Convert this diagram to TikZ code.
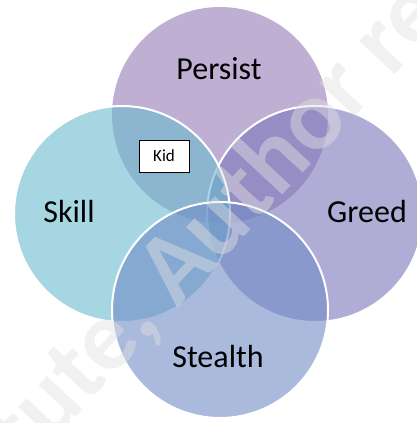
\documentclass[tikz,border=0pt]{standalone}
\usepackage{fontspec}
\setmainfont{Carlito}
\definecolor{persistC}{RGB}{148,123,182}
\definecolor{skillC}{RGB}{107,187,207}
\definecolor{greedC}{RGB}{122,118,185}
\definecolor{stealthC}{RGB}{112,140,197}
\definecolor{wmC}{RGB}{225,225,225}
\begin{document}
\begin{tikzpicture}[x=1pt,y=-1pt,
  venn/.style={circle, minimum size=216pt, inner sep=0pt, fill opacity=0.6, line width=2pt},
  lbl/.style={anchor=base, font=\fontsize{32}{36}\selectfont, text=black, inner sep=0pt},
  kidbox/.style={draw=black, fill=white, line width=0.8pt, minimum width=50pt, minimum height=32pt, inner sep=0pt, font=\fontsize{17}{20}\selectfont},
  wmark/.style={text=wmC, text opacity=0.45, font=\bfseries\fontsize{100}{110}\selectfont, rotate=47, anchor=base, inner sep=0pt}]
\useasboundingbox (0,0) rectangle (417,423);
\begin{scope}
\clip (0,0) rectangle (417,423);
\node[venn, fill=persistC] (persist) at (220,115) {};
\node[venn, fill=greedC, draw=white] (greed) at (315,214) {};
\node[venn, fill=skillC, draw=white] (skill) at (122,214) {};
\node[venn, fill=stealthC, draw=white] (stealth) at (220,310) {};
\node[wmark] (wm) at (238,243) {tute, Author re};
\end{scope}
\node[lbl] (lp) at (219,79) {Persist};
\node[lbl] (ls) at (69,222) {Skill};
\node[lbl] (lg) at (367,222) {Greed};
\node[lbl] (lst) at (218,367) {Stealth};
\node[kidbox] (kid) at (164,156) {Kid};
\end{tikzpicture}
\end{document}
